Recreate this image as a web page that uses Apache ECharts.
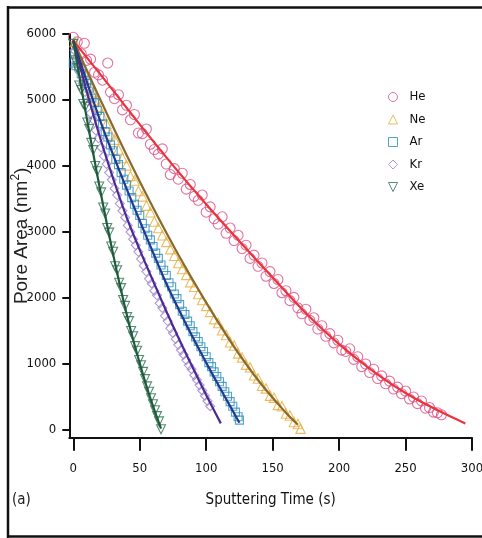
<!DOCTYPE html>
<html>
<head>
<meta charset="utf-8">
<script src="https://cdn.jsdelivr.net/npm/echarts@6/dist/echarts.min.js"></script>
<style>html,body{margin:0;padding:0;background:#fff}#c{width:482px;height:538px}</style>
</head>
<body>
<div id="c"></div>
<script>
// ---- data ----
var gasNames = ['He', 'Ne', 'Ar', 'Kr', 'Xe'];
var xTicks = [0, 50, 100, 150, 200, 250, 300];
var yTicks = [0, 1000, 2000, 3000, 4000, 5000, 6000];

var hePoints = [[0,5950],[3,5880],[6,5700],[8.3,5860],[10,5600],[13,5620],[16,5420],[19,5380],[22,5300],[25.9,5560],[28,5120],[31,5020],[34,5080],[37,4850],[40,4920],[43,4700],[46,4780],[49,4500],[52,4490],[55,4560],[58,4330],[61,4250],[64,4180],[67,4260],[70,4030],[73,3870],[76,3960],[79,3800],[82,3890],[85,3650],[88,3720],[91,3540],[94,3480],[97,3560],[100,3300],[103,3380],[106,3200],[109,3120],[112,3230],[115,2980],[118,3060],[121,2870],[124,2950],[127,2750],[130,2800],[133,2600],[136,2650],[139,2480],[142,2530],[145,2330],[148,2400],[151,2220],[154,2280],[157,2080],[160,2110],[163,1960],[166,2010],[169,1850],[172,1760],[175,1830],[178,1660],[181,1700],[184,1530],[187,1580],[190,1420],[193,1460],[196,1320],[199,1360],[202,1210],[205,1190],[208,1230],[211,1070],[214,1110],[217,960],[220,1000],[223,870],[226,920],[229,780],[232,820],[235,700],[238,740],[241,620],[244,650],[247,550],[250,590],[253,470],[256,500],[259,400],[262,440],[265,330],[268,340],[271,270],[274,260],[277,230]];
var heFit = [[0,5900],[25,5270],[50,4630],[75,4010],[100,3420],[125,2860],[150,2310],[175,1770],[200,1300],[225,900],[250,560],[275,290],[295,100]];

var nePoints = [[1,5880],[3,5700],[5,5560],[7,5500],[9,5380],[11,5320],[13,5150],[15,5120],[17,4990],[19,4900],[22,4760],[25,4640],[28,4480],[31,4400],[34,4250],[37,4120],[40,4010],[43,3850],[46,3780],[49,3620],[52,3540],[55,3400],[58,3300],[61,3160],[64,3060],[67,2950],[70,2850],[73,2740],[76,2640],[79,2530],[82,2440],[85,2350],[88,2240],[91,2170],[94,2060],[97,1970],[100,1880],[103,1790],[106,1680],[109,1620],[112,1510],[115,1440],[118,1330],[121,1280],[124,1160],[127,1100],[130,990],[133,950],[136,830],[139,780],[142,670],[145,630],[148,520],[151,490],[154,380],[157,360],[160,250],[163,220],[166,120],[169,90],[171,20]];
var neFit = [[0,5900],[20,5020],[40,4170],[60,3370],[80,2620],[100,1930],[120,1290],[140,730],[160,260],[169,80]];

var arPoints = [[0,5560],[1,5700],[2,5520],[4,5500],[6,5400],[8,5300],[10,5250],[12,5180],[14,5030],[16,4960],[18,4840],[20,4750],[22,4640],[24,4520],[26,4440],[28,4320],[30,4230],[32,4100],[34,4020],[36,3900],[38,3800],[40,3710],[42,3620],[44,3520],[46,3420],[48,3330],[50,3250],[52,3130],[54,3050],[56,2950],[58,2880],[60,2780],[62,2680],[64,2600],[66,2500],[68,2420],[70,2340],[72,2230],[74,2170],[76,2060],[78,1990],[80,1900],[82,1800],[84,1750],[86,1650],[88,1580],[90,1490],[92,1410],[94,1340],[96,1260],[98,1190],[100,1110],[102,1020],[104,960],[106,880],[108,810],[110,730],[112,660],[114,580],[116,510],[118,430],[120,360],[122,270],[124,200],[125,150]];
var arFit = [[0,5900],[10,5290],[20,4700],[30,4170],[40,3660],[50,3170],[60,2690],[70,2220],[80,1800],[90,1400],[100,1020],[110,650],[120,290],[125,110]];

var krPoints = [[1,5750],[3,5560],[5,5420],[7,5250],[9,5120],[11,4980],[13,4800],[15,4700],[17,4540],[19,4420],[21,4280],[23,4150],[25,4030],[27,3900],[29,3790],[31,3660],[33,3560],[35,3430],[37,3320],[39,3220],[41,3100],[43,3000],[45,2890],[47,2800],[49,2700],[51,2590],[53,2490],[55,2400],[57,2290],[59,2220],[61,2110],[63,2040],[65,1920],[67,1850],[69,1730],[71,1650],[73,1540],[75,1470],[77,1380],[79,1290],[81,1210],[83,1140],[85,1060],[87,980],[89,920],[91,830],[93,760],[95,680],[97,600],[99,520],[101,440],[103,360]];
var krFit = [[0,5900],[10,5140],[20,4440],[30,3810],[40,3230],[50,2730],[60,2260],[70,1800],[80,1360],[90,940],[100,530],[111,100]];

var xePoints = [[0,5850],[1.5,5600],[3,5480],[4.5,5220],[6,5150],[7.5,4940],[9,4900],[10.5,4660],[12,4560],[13.5,4350],[15,4240],[16.5,4000],[18,3920],[19.5,3690],[21,3600],[22.5,3370],[24,3280],[25.5,3060],[27,2990],[28.5,2780],[30,2700],[31.5,2480],[33,2420],[34.5,2230],[36,2150],[37.5,1970],[39,1880],[40.5,1710],[42,1650],[43.5,1500],[45,1420],[46.5,1270],[48,1200],[49.5,1060],[51,980],[52.5,880],[54,770],[55.5,660],[57,580],[58.5,480],[60,390],[61.5,300],[63,210],[64.5,130],[66,10]];
var xeFit = [[0,5900],[5,5310],[10,4740],[15,4190],[20,3660],[25,3150],[30,2660],[35,2200],[40,1770],[45,1370],[50,1010],[55,670],[60,360],[66,20]];

// ---- styling ----
var narrow = "'Liberation Sans Narrow','DejaVu Sans Condensed','Arial Narrow','Liberation Sans',sans-serif";
var markerColors = ['#dc4f86', '#e6ad3c', '#2b8cbe', '#9b7fd0', '#2f6e52'];
var lineColors = ['#e8353b', '#8a6a2c', '#1f3a8f', '#4b2a92', '#1e5a3c'];
var symbols = ['circle', 'triangle', 'rect', 'diamond', 'path://M0,0 L10,0 L5,10 Z'];
var sizes = [10, 9.5, 8, 9, 9];
var pointSets = [hePoints, nePoints, arPoints, krPoints, xePoints];
var fitSets = [heFit, neFit, arFit, krFit, xeFit];
var plain = function (v) { return String(v); };

var series = [];
gasNames.forEach(function (g, i) {
  series.push({
    name: g, type: 'scatter', data: pointSets[i], symbol: symbols[i], symbolSize: sizes[i],
    itemStyle: { color: 'rgba(255,255,255,0)', borderColor: markerColors[i], borderWidth: 1.1 },
    z: 2, silent: true
  });
});
gasNames.forEach(function (g, i) {
  series.push({
    name: g + ' fit', type: 'line', data: fitSets[i], smooth: 0.4, showSymbol: false, symbol: 'none',
    lineStyle: { color: lineColors[i], width: 2.2 }, z: 3, silent: true
  });
});

var chart = echarts.init(document.getElementById('c'), null, { renderer: 'canvas' });
chart.setOption({
  animation: false,
  backgroundColor: '#fff',
  grid: { left: 69.3, right: 10, top: 34, bottom: 100.3, containLabel: false, outerBoundsMode: 'none' },
  legend: {
    data: gasNames, orient: 'vertical', left: 388, top: 90, itemWidth: 9, itemHeight: 9, itemGap: 8.5,
    padding: 0, itemStyle: { borderWidth: 1 },
    textStyle: { fontFamily: narrow, fontSize: 13, color: '#111', padding: [0, 0, 0, 7], lineHeight: 14 }
  },
  xAxis: {
    type: 'value', min: -3, max: 300,
    name: 'Sputtering Time (s)', nameLocation: 'middle', nameGap: 55, nameMoveOverlap: false,
    nameTextStyle: { fontFamily: narrow, fontSize: 15, color: '#111' },
    axisLine: { onZero: false, lineStyle: { color: '#111', width: 2 } },
    axisTick: { show: true, length: 13, lineStyle: { color: '#111', width: 2 }, customValues: xTicks },
    axisLabel: { customValues: xTicks, formatter: plain, margin: 24, fontFamily: narrow, fontSize: 13, color: '#111' },
    splitLine: { show: false }
  },
  yAxis: {
    type: 'value', min: -117, max: 6000,
    name: 'Pore Area (nm{sup|2})', nameLocation: 'middle', nameGap: 36, nameRotate: 90, nameMoveOverlap: false,
    nameTextStyle: { fontFamily: "'Liberation Sans',Arial,sans-serif", fontSize: 19, color: '#222', lineHeight: 24,
      rich: { sup: { fontSize: 12, verticalAlign: 'top', lineHeight: 24, fontFamily: "'Liberation Sans',Arial,sans-serif", color: '#222' } } },
    axisLine: { onZero: false, lineStyle: { color: '#111', width: 2 } },
    axisTick: { show: true, length: 7, lineStyle: { color: '#111', width: 2 }, customValues: yTicks },
    axisLabel: { customValues: yTicks, formatter: plain, margin: 13, fontFamily: narrow, fontSize: 13, color: '#111' },
    splitLine: { show: false }
  },
  graphic: [
    { type: 'line', shape: { x1: 8, y1: 7.5, x2: 482, y2: 7.5 }, style: { stroke: '#111', lineWidth: 2.5 } },
    { type: 'line', shape: { x1: 8, y1: 6, x2: 8, y2: 538 }, style: { stroke: '#111', lineWidth: 2.5 } },
    { type: 'line', shape: { x1: 7, y1: 536.5, x2: 482, y2: 536.5 }, style: { stroke: '#111', lineWidth: 2.5 } },
    { type: 'text', left: 12, top: 493, style: { text: '(a)', fontFamily: narrow, fontSize: 15, fill: '#222' } }
  ],
  series: series
});
</script>
</body>
</html>
